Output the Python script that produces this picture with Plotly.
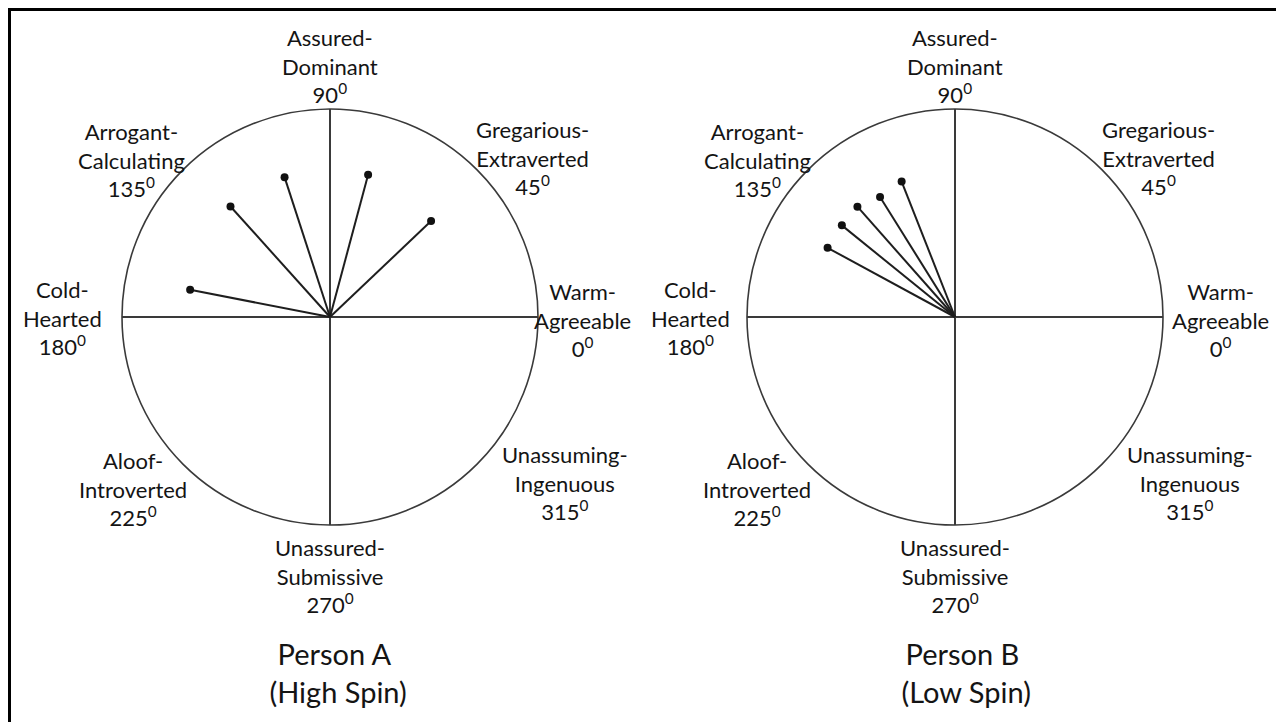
import plotly.graph_objects as go

# ---- data ----
octant_angles = [90, 45, 0, 315, 270, 225, 180, 135]
octant_names = [
    "Assured-<br>Dominant",
    "Gregarious-<br>Extraverted",
    "Warm-<br>Agreeable",
    "Unassuming-<br>Ingenuous",
    "Unassured-<br>Submissive",
    "Aloof-<br>Introverted",
    "Cold-<br>Hearted",
    "Arrogant-<br>Calculating",
]
person_titles = ["Person A<br> (High Spin)", "Person B<br> (Low Spin)"]

a_theta = [169, 132, 108, 75, 43.5]
a_r = [0.685, 0.715, 0.707, 0.708, 0.67]
b_theta = [151.5, 141, 131.5, 122, 111.5]
b_r = [0.697, 0.70, 0.708, 0.68, 0.70]

# ---- layout constants (page pixel coordinates; page body has an 8px margin) ----
OFF = 8
W, H = 1284 - OFF, 722 - OFF
R = 208
centers = [(330, 317), (955, 317)]
FONT = "Lato, 'Open Sans', sans-serif"
TXT = "#141414"
LINE = "#3a3a3a"

label_pos_a = [(330, 66), (532, 158), (582, 320), (565, 483), (330, 576), (133, 489), (62, 318), (131, 160)]
label_pos_b = [(955, 66), (1158, 158), (1220, 320), (1190, 483), (955, 576), (757, 489), (690, 318), (757, 160)]
title_pos = [(335, 672), (962, 672)]


def px(x):
    return (x - OFF) / W


def py(y):
    return 1 - (y - OFF) / H


fig = go.Figure()


def add_person(polar, thetas, rs):
    for t, r in zip(thetas, rs):
        fig.add_trace(go.Scatterpolar(
            r=[0, r], theta=[t, t], mode="lines",
            line=dict(color="#1e1e1e", width=2),
            subplot=polar, showlegend=False, hoverinfo="skip"))
    fig.add_trace(go.Scatterpolar(
        r=rs, theta=thetas, mode="markers",
        marker=dict(color="#111111", size=8, symbol="circle"),
        subplot=polar, showlegend=False))


add_person("polar", a_theta, a_r)
add_person("polar2", b_theta, b_r)


def polar_layout(cx, cy):
    return dict(
        domain=dict(x=[px(cx - R), px(cx + R)],
                    y=[py(cy + R), py(cy - R)]),
        bgcolor="white",
        radialaxis=dict(range=[0, 1], visible=False, showgrid=False),
        angularaxis=dict(
            rotation=0, direction="counterclockwise",
            tickmode="array", tickvals=[0, 90, 180, 270],
            showticklabels=False, ticks="",
            showgrid=True, gridcolor=LINE, gridwidth=1.6,
            showline=True, linecolor=LINE, linewidth=1.6,
        ),
    )


annotations = []
for positions in (label_pos_a, label_pos_b):
    for (x, y), name, ang in zip(positions, octant_names, octant_angles):
        annotations.append(dict(
            x=px(x), y=py(y), xref="paper", yref="paper",
            text=f"{name}<br>{ang}<sup>0</sup>", showarrow=False,
            xanchor="center", yanchor="middle", align="center",
            font=dict(family=FONT, size=22, color=TXT)))
for (x, y), t in zip(title_pos, person_titles):
    annotations.append(dict(
        x=px(x), y=py(y), xref="paper", yref="paper",
        text=t, showarrow=False, xanchor="center", yanchor="middle",
        align="center", font=dict(family=FONT, size=29, color=TXT)))

shapes = [
    dict(type="line", xref="paper", yref="paper", x0=1.5 / W, x1=1.5 / W,
         y0=0, y1=1, line=dict(color="black", width=3)),
    dict(type="line", xref="paper", yref="paper", x0=0, x1=1,
         y0=1 - 1.5 / H, y1=1 - 1.5 / H, line=dict(color="black", width=3)),
]

fig.update_layout(
    width=W, height=H,
    margin=dict(l=0, r=0, t=0, b=0),
    paper_bgcolor="white",
    showlegend=False,
    polar=polar_layout(*centers[0]),
    polar2=polar_layout(*centers[1]),
    annotations=annotations,
    shapes=shapes,
)

fig.write_html("out.html")
